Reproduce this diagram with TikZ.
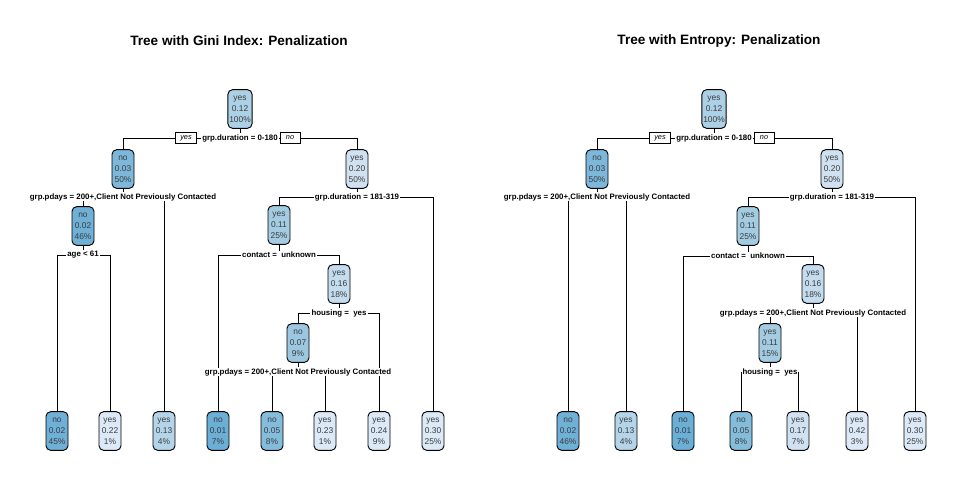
\documentclass[tikz,border=0pt]{standalone}
\usepackage{fontspec}
\setmainfont{Liberation Sans}
\usetikzlibrary{backgrounds}
\definecolor{b01}{HTML}{6BAED6}
\definecolor{b02}{HTML}{6FB0D7}
\definecolor{b03}{HTML}{7DB7DA}
\definecolor{b05}{HTML}{84BCDC}
\definecolor{b07}{HTML}{9BC7E0}
\definecolor{b11}{HTML}{A3CCE3}
\definecolor{b12}{HTML}{ACD1E6}
\definecolor{b13}{HTML}{B4D5E9}
\definecolor{b16}{HTML}{C3DCEE}
\definecolor{b20}{HTML}{D0E2F2}
\definecolor{b30}{HTML}{DCE9F6}
\definecolor{nodetxt}{HTML}{3C3C3C}
\begin{document}
\begin{tikzpicture}[x=0.75pt,y=-0.75pt,line width=0.7pt,
    box/.style={draw,rounded corners=3.5pt,align=center,text=nodetxt,font=\fontsize{6.3}{8.2}\selectfont,minimum width=16.5pt,minimum height=29pt,inner sep=1pt},
    split/.style={fill=white,inner sep=0.6pt,font=\bfseries\fontsize{5.9}{7}\selectfont},
    yn/.style={draw,fill=white,font=\itshape\fontsize{5.5}{6}\selectfont,minimum width=15pt,minimum height=8.2pt,inner ysep=0pt,inner xsep=3.5pt,line width=0.5pt},
    title/.style={font=\bfseries\fontsize{10.2}{12}\selectfont}]
    \useasboundingbox (0,0) rectangle (960,480);
    \node[title] (gt) at (239,41) {Tree with Gini Index: Penalization};
    \node[title] (et) at (719,41) {Tree with Entropy: Penalization};

    \node[box,fill=b12] (g1) at (240,109) {yes\\0.12\\100\%};
    \node[split] (gs1) at (240,138) {grp.duration = 0-180};
    \node[yn] (gy) at (186,138) {yes};
    \node[yn] (gn) at (290,138) {no};
    \node[box,fill=b03] (g2) at (123,169) {no\\0.03\\50\%};
    \node[split] (gs2) at (123,197) {grp.pdays = 200+,Client Not Previously Contacted};
    \node[box,fill=b02] (g4) at (83,226) {no\\0.02\\46\%};
    \node[split] (gs4) at (83,255) {age < 61};
    \node[box,fill=b20] (g3) at (357,169) {yes\\0.20\\50\%};
    \node[split] (gs3) at (357,197) {grp.duration = 181-319};
    \node[box,fill=b11] (g6) at (279,225) {yes\\0.11\\25\%};
    \node[split] (gs6) at (279,255) {contact =\ \ unknown};
    \node[box,fill=b16] (g13) at (339,284) {yes\\0.16\\18\%};
    \node[split] (gs13) at (339,313) {housing =\ \ yes};
    \node[box,fill=b07] (g26) at (298,343) {no\\0.07\\9\%};
    \node[split] (gs26) at (298,372) {grp.pdays = 200+,Client Not Previously Contacted};
    \node[box,fill=b02] (g8) at (57,431) {no\\0.02\\45\%};
    \node[box,fill=b30] (g9) at (110,431) {yes\\0.22\\1\%};
    \node[box,fill=b13] (g5) at (164,431) {yes\\0.13\\4\%};
    \node[box,fill=b01] (g12) at (218,431) {no\\0.01\\7\%};
    \node[box,fill=b05] (g52) at (272,431) {no\\0.05\\8\%};
    \node[box,fill=b30] (g53) at (325,431) {yes\\0.23\\1\%};
    \node[box,fill=b30] (g27) at (379,431) {yes\\0.24\\9\%};
    \node[box,fill=b30] (g7) at (433,431) {yes\\0.30\\25\%};

    \node[box,fill=b12] (e1) at (714,109) {yes\\0.12\\100\%};
    \node[split] (es1) at (714,138) {grp.duration = 0-180};
    \node[yn] (ey) at (660,138) {yes};
    \node[yn] (en) at (764,138) {no};
    \node[box,fill=b03] (e2) at (597,169) {no\\0.03\\50\%};
    \node[split] (es2) at (597,197) {grp.pdays = 200+,Client Not Previously Contacted};
    \node[box,fill=b20] (e3) at (832,169) {yes\\0.20\\50\%};
    \node[split] (es3) at (832,197) {grp.duration = 181-319};
    \node[box,fill=b11] (e6) at (748,226) {yes\\0.11\\25\%};
    \node[split] (es6) at (748,256) {contact =\ \ unknown};
    \node[box,fill=b16] (e13) at (813,284) {yes\\0.16\\18\%};
    \node[split] (es13) at (813,313) {grp.pdays = 200+,Client Not Previously Contacted};
    \node[box,fill=b11] (e26) at (770,343) {yes\\0.11\\15\%};
    \node[split] (es26) at (770,372) {housing =\ \ yes};
    \node[box,fill=b02] (e4) at (568,431) {no\\0.02\\46\%};
    \node[box,fill=b13] (e5) at (626,431) {yes\\0.13\\4\%};
    \node[box,fill=b01] (e12) at (683,431) {no\\0.01\\7\%};
    \node[box,fill=b05] (e52) at (741,431) {no\\0.05\\8\%};
    \node[box,fill=b20] (e53) at (798,431) {yes\\0.17\\7\%};
    \node[box,fill=b30] (e27) at (857,431) {yes\\0.42\\3\%};
    \node[box,fill=b30] (e7) at (915,431) {yes\\0.30\\25\%};

    \begin{scope}[on background layer]
        \foreach \p/\s/\l/\r in {g1/gs1/g2/g3, g2/gs2/g4/g5, g4/gs4/g8/g9, g3/gs3/g6/g7,
            g6/gs6/g12/g13, g13/gs13/g26/g27, g26/gs26/g52/g53,
            e1/es1/e2/e3, e2/es2/e4/e5, e3/es3/e6/e7, e6/es6/e12/e13,
            e13/es13/e26/e27, e26/es26/e52/e53}
        {
            \draw (\p) -- (\s);
            \draw (\s) -| (\l);
            \draw (\s) -| (\r);
        }
    \end{scope}
\end{tikzpicture}
\end{document}
